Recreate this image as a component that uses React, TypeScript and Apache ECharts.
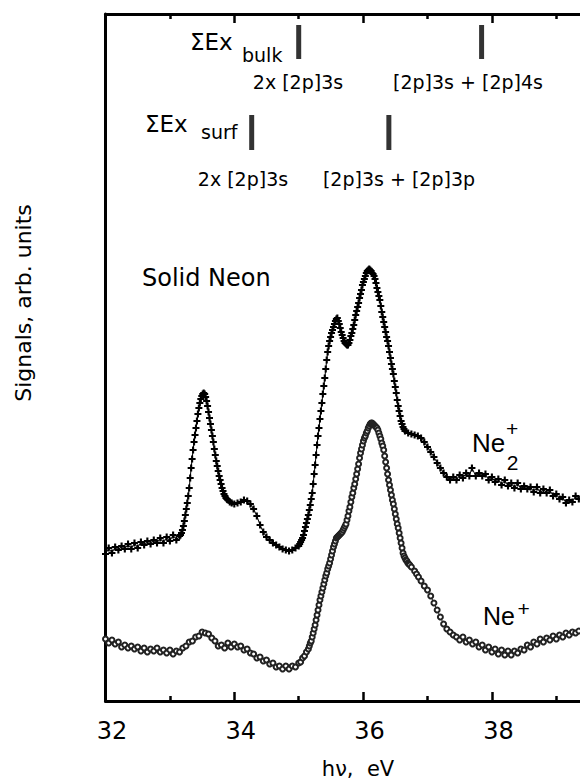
import React, { useEffect, useRef } from 'react';
import * as echarts from 'echarts';

// photon energy axis (eV)
const X_MIN = 32;
const X_MAX = 40;
const X_STEP = 2;
const Y_MAX = 687; // arbitrary signal units

// Ne2+ signal: [hν (eV), signal (arb. units)]
const ne2Plus: [number, number][] = [
  [32.00,147],[32.05,153],[32.10,148],[32.15,154],[32.20,151],[32.25,155],[32.30,152],[32.35,157],[32.40,152],[32.45,158],
  [32.50,153],[32.55,159],[32.60,156],[32.65,160],[32.70,157],[32.75,161],[32.80,158],[32.85,163],[32.90,158],[32.95,164],
  [33.00,160],[33.05,166],[33.10,161],
  [33.150,165],[33.165,166],[33.180,168],[33.195,171],[33.210,175],[33.225,180],[33.240,186],[33.255,192],[33.270,198],
  [33.285,205],[33.300,213],[33.315,223],[33.330,233],[33.345,242],[33.360,251],[33.375,259],[33.390,266],[33.405,273],
  [33.420,280],[33.435,287],[33.450,293],[33.465,298],[33.480,302],[33.495,305],[33.510,307],[33.525,308],[33.540,307],
  [33.555,304],[33.570,300],[33.585,295],[33.600,289],[33.615,283],[33.630,277],[33.645,271],[33.660,265],[33.675,259],
  [33.690,252],[33.705,246],[33.720,240],[33.735,235],[33.750,230],[33.765,225],[33.780,221],[33.795,217],[33.810,213],
  [33.825,210],[33.840,207],[33.855,205],[33.870,203],[33.885,202],[33.900,201],[33.93,199],[33.96,198],
  [34.00,197],[34.05,198],[34.10,199],[34.15,201],[34.20,200],[34.25,197],[34.30,192],[34.35,185],[34.40,176],[34.45,169],
  [34.50,164],[34.55,161],[34.60,158],[34.65,156],[34.70,154],[34.75,152],[34.80,151],[34.85,150],[34.90,151],[34.95,153],
  [35.000,155],[35.015,157],[35.030,159],[35.045,161],[35.060,163],[35.075,166],[35.090,170],[35.105,174],[35.120,178],
  [35.135,182],[35.150,186],[35.165,191],[35.180,196],[35.195,202],[35.210,208],[35.225,217],[35.240,227],[35.255,236],
  [35.270,246],[35.285,256],[35.300,265],[35.315,273],[35.330,282],[35.345,290],[35.360,298],[35.375,307],[35.390,315],
  [35.405,323],[35.420,332],[35.435,341],[35.450,349],[35.465,355],[35.480,360],[35.495,364],[35.510,368],[35.525,371],
  [35.540,374],[35.555,377],[35.570,380],[35.585,382],[35.600,383],[35.615,380],[35.630,377],[35.645,373],[35.660,369],
  [35.675,366],[35.690,363],[35.705,360],[35.720,358],[35.735,357],[35.750,356],[35.765,356],[35.780,358],[35.795,361],
  [35.810,365],[35.825,368],[35.840,372],[35.855,376],[35.870,381],[35.885,386],[35.900,390],[35.915,394],[35.930,398],
  [35.945,403],[35.960,407],[35.975,411],[35.990,416],[36.005,419],[36.020,422],[36.035,425],[36.050,428],[36.065,430],
  [36.080,431],[36.095,432],[36.110,431],[36.125,430],[36.140,428],[36.155,427],[36.170,425],[36.185,422],[36.200,418],
  [36.215,413],[36.230,409],[36.245,405],[36.260,401],[36.275,395],[36.290,389],[36.305,384],[36.320,379],[36.335,374],
  [36.350,369],[36.365,364],[36.380,360],[36.395,355],[36.410,349],[36.425,343],[36.440,337],[36.455,332],[36.470,327],
  [36.485,320],[36.500,314],[36.515,308],[36.530,301],[36.545,295],[36.560,290],[36.575,285],[36.590,280],[36.605,277],
  [36.620,274],[36.635,272],[36.650,270],
  [36.70,268],[36.75,267],[36.80,266],[36.85,265],[36.90,263],
  [36.95,259],[37.00,254],[37.05,249],[37.10,244],[37.15,238],[37.20,233],[37.25,228],[37.30,224],[37.35,221],[37.40,224],
  [37.45,221],[37.50,226],[37.55,223],[37.60,228],[37.65,225],[37.69,233],[37.75,225],[37.80,228],[37.85,225],[37.90,227],
  [37.95,221],[38.00,224],[38.05,219],[38.10,222],[38.15,216],[38.20,221],[38.25,215],[38.30,218],[38.35,213],[38.40,218],
  [38.45,212],[38.50,215],[38.55,212],[38.60,214],[38.65,209],[38.70,214],[38.75,208],[38.80,212],[38.85,208],[38.90,211],
  [38.95,205],[39.00,207],[39.05,202],[39.10,204],[39.15,198],[39.20,201],[39.25,199],[39.30,205],[39.35,202],
];

// Ne+ signal: [hν (eV), signal (arb. units)]
const nePlus: [number, number][] = [
  [32.00,62],[32.05,58],[32.10,61],[32.15,57],[32.20,59],[32.25,54],[32.30,56],[32.35,53],[32.40,55],[32.45,52],
  [32.50,54],[32.55,50],[32.60,53],[32.65,49],[32.70,52],[32.75,50],[32.80,53],[32.85,49],[32.90,51],[32.95,48],
  [33.00,51],[33.05,47],[33.10,50],[33.15,49],[33.20,53],[33.25,55],[33.30,59],[33.35,60],[33.40,64],[33.45,65],
  [33.50,69],[33.55,68],[33.60,67],[33.65,63],[33.70,60],[33.75,55],[33.80,56],[33.85,53],[33.90,58],[33.95,54],
  [34.00,57],[34.05,54],[34.10,55],[34.15,51],[34.20,52],[34.25,48],[34.30,47],[34.35,43],[34.40,44],[34.45,40],
  [34.50,41],[34.55,37],[34.60,38],[34.65,34],[34.70,35],[34.75,32],[34.80,35],[34.85,32],[34.90,35],[34.95,34],
  [35.00,38],[35.03,39],[35.06,43],[35.09,45],[35.12,49],
  [35.150,52],[35.165,55],[35.180,58],[35.195,60],[35.210,64],[35.225,68],[35.240,72],[35.255,76],[35.270,81],
  [35.285,86],[35.300,91],[35.315,96],[35.330,101],[35.345,105],[35.360,109],[35.375,113],[35.390,117],[35.405,121],
  [35.420,125],[35.435,128],[35.450,132],[35.465,135],[35.480,138],[35.495,142],[35.510,146],[35.525,150],[35.540,154],
  [35.555,157],[35.570,160],[35.585,163],[35.600,164],[35.615,165],[35.630,166],[35.645,167],[35.660,168],[35.675,169],
  [35.690,171],[35.705,173],[35.720,175],[35.735,177],[35.750,181],[35.765,185],[35.780,190],[35.795,194],[35.810,199],
  [35.825,204],[35.840,208],[35.855,213],[35.870,217],[35.885,222],[35.900,227],[35.915,232],[35.930,237],[35.945,243],
  [35.960,248],[35.975,252],[35.990,256],[36.005,260],[36.020,263],[36.035,265],[36.050,268],[36.065,270],[36.080,273],
  [36.095,275],[36.110,277],[36.125,278],[36.140,278],[36.155,277],[36.170,276],[36.185,275],[36.200,274],[36.215,273],
  [36.230,271],[36.245,268],[36.260,265],[36.275,262],[36.290,258],[36.305,255],[36.320,251],[36.335,245],[36.350,239],
  [36.365,233],[36.380,227],[36.395,221],[36.410,216],[36.425,211],[36.440,206],[36.455,201],[36.470,197],[36.485,192],
  [36.500,187],[36.515,182],[36.530,177],[36.545,173],[36.560,168],[36.575,163],[36.590,158],[36.605,153],[36.620,148],
  [36.635,145],[36.650,143],[36.665,141],[36.680,140],[36.695,138],[36.710,137],[36.725,136],
  [36.75,134],[36.80,130],[36.83,127],[36.86,124],[36.90,120],[36.95,115],[37.00,111],[37.05,105],[37.10,98],[37.15,91],
  [37.20,84],[37.25,77],[37.30,72],[37.35,69],[37.40,66],[37.45,64],[37.50,61],[37.55,64],[37.60,59],[37.65,61],
  [37.70,57],[37.75,59],[37.80,54],[37.85,56],[37.90,51],[37.95,54],[38.00,49],[38.05,52],[38.10,47],[38.15,51],
  [38.20,46],[38.25,50],[38.30,46],[38.35,50],[38.40,48],[38.45,52],[38.50,51],[38.55,56],[38.60,54],[38.65,59],
  [38.70,57],[38.75,62],[38.80,59],[38.85,63],[38.90,61],[38.95,65],[39.00,62],[39.05,66],[39.10,64],[39.15,68],
  [39.20,66],[39.25,69],[39.30,68],[39.35,70],
];

// excitation energy markers (eV)
const bulkEnergies = [35.0, 37.84];
const bulkLabels = ['2x [2p]3s', '[2p]3s + [2p]4s'];
const surfEnergies = [34.27, 36.40];
const surfLabels = ['2x [2p]3s', '[2p]3s + [2p]3p'];
const BULK_LEVEL = 659;
const SURF_LEVEL = 568.5;

const FONT = '"DejaVu Sans", sans-serif';
const FONT2 = '"Liberation Sans", Arial, sans-serif';

const PLUS = 'path://M2.8,0H5.2V2.8H8V5.2H5.2V8H2.8V5.2H0V2.8H2.8Z';

function txt(text: string, x: number, y: number, size: number, align = 'left', family = FONT, extra: any = {}) {
  return {
    type: 'text',
    x,
    y,
    silent: true,
    ...extra,
    style: {
      text,
      font: `${size}px ${family}`,
      fill: '#000',
      align,
      verticalAlign: 'middle',
      textAlign: align,
      textVerticalAlign: 'middle',
    },
  };
}

export default function App() {
  const ref = useRef<HTMLDivElement>(null);

  useEffect(() => {
    if (!ref.current) return;
    const chart = echarts.init(ref.current, undefined, { renderer: 'svg' });

    const axisCommon = {
      type: 'value',
      min: X_MIN,
      max: X_MAX,
      interval: X_STEP,
      axisLine: { show: true, onZero: false, lineStyle: { color: '#000', width: 3 } },
      axisTick: { show: true, inside: true, length: 9, lineStyle: { color: '#000', width: 2.5 } },
      minorTick: { show: true, splitNumber: 2, length: 5, lineStyle: { color: '#000', width: 2.5 } },
      splitLine: { show: false },
      minorSplitLine: { show: false },
    };

    const option: any = {
      animation: false,
      backgroundColor: '#fff',
      grid: { left: 105.5, right: 19.3, top: 14, bottom: 80, containLabel: false },
      xAxis: [
        {
          ...axisCommon,
          position: 'bottom',
          axisLabel: {
            show: true,
            margin: 18,
            color: '#000',
            fontSize: 24,
            fontFamily: FONT,
            padding: [0, 0, 0, 13],
            showMaxLabel: false,
          },
        },
        {
          ...axisCommon,
          position: 'top',
          axisLabel: { show: false },
        },
      ],
      yAxis: {
        type: 'value',
        min: 0,
        max: Y_MAX,
        axisLine: { show: true, onZero: false, lineStyle: { color: '#000', width: 3 } },
        axisTick: { show: false },
        axisLabel: { show: false },
        splitLine: { show: false },
      },
      series: [
        {
          name: 'Ne+',
          type: 'line',
          xAxisIndex: 0,
          data: nePlus,
          symbol: 'emptyCircle',
          symbolSize: 5,
          showSymbol: true,
          showAllSymbol: true,
          lineStyle: { color: '#222', width: 1 },
          itemStyle: { color: '#222', borderWidth: 1 },
          silent: true,
          z: 2,
        },
        {
          name: 'Ne2+',
          type: 'line',
          xAxisIndex: 0,
          data: ne2Plus,
          symbol: PLUS,
          symbolSize: 7,
          showSymbol: true,
          showAllSymbol: true,
          lineStyle: { color: '#000', width: 1 },
          itemStyle: { color: '#000' },
          silent: true,
          z: 3,
        },
        {
          name: 'bulk',
          type: 'scatter',
          xAxisIndex: 0,
          data: bulkEnergies.map((e) => [e, BULK_LEVEL]),
          symbol: 'rect',
          symbolSize: [5, 34],
          itemStyle: { color: '#000' },
          silent: true,
        },
        {
          name: 'surf',
          type: 'scatter',
          xAxisIndex: 0,
          data: surfEnergies.map((e) => [e, SURF_LEVEL]),
          symbol: 'rect',
          symbolSize: [5, 35],
          itemStyle: { color: '#000' },
          silent: true,
        },
      ],
      graphic: [
        txt('Signals, arb. units', 23, 303, 22, 'center', FONT, { rotation: Math.PI / 2 }),
        txt('hν,  eV', 358, 769, 21, 'center'),
        txt('Solid Neon', 142, 277.7, 24, 'left'),
        txt('ΣEx', 190, 41.5, 23, 'left'),
        txt('bulk', 242, 55.4, 19, 'left'),
        txt('ΣEx', 145, 123.5, 23, 'left'),
        txt('surf', 201, 131.7, 19, 'left'),
        txt(bulkLabels[0], 298, 81.6, 19, 'center'),
        txt(bulkLabels[1], 468, 81.6, 19, 'center'),
        txt(surfLabels[0], 243, 179.2, 19, 'center'),
        txt(surfLabels[1], 399, 179.2, 19, 'center'),
        txt('Ne', 472, 443, 26, 'left', FONT2),
        txt('+', 512, 428, 21, 'center', FONT2),
        txt('2', 512.5, 462.7, 21, 'center', FONT2),
        txt('Ne', 483, 616.3, 25, 'left', FONT2),
        txt('+', 523.5, 608, 21, 'center', FONT2),
      ],
    };

    chart.setOption(option);
    return () => chart.dispose();
  }, []);

  return (
    <div style={{ position: 'fixed', left: 0, top: 0, width: 580, height: 781, overflow: 'hidden', background: '#fff' }}>
      <div ref={ref} style={{ width: 640, height: 781 }} />
    </div>
  );
}
